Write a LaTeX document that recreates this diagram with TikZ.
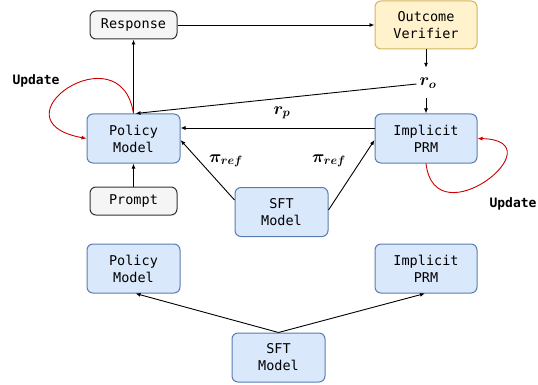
\documentclass[tikz,border=0pt]{standalone}
\usepackage{fontspec}
\usepackage{amsmath,bm}
\setmonofont{DejaVu Sans Mono}
\usetikzlibrary{arrows.meta}
\definecolor{bluefill}{HTML}{DAE8FC}
\definecolor{blueline}{HTML}{5A7DB0}
\definecolor{yelfill}{HTML}{FFF2CC}
\definecolor{yelline}{HTML}{D6B656}
\definecolor{grayfill}{HTML}{F5F5F5}
\definecolor{grayline}{HTML}{333333}
\definecolor{loopred}{HTML}{CC0000}
\tikzset{
  box/.style={draw, rounded corners=6pt, line width=1pt, align=center,
    font=\fontsize{13.5}{17}\selectfont\ttfamily, inner sep=2pt},
  bluebox/.style={box, fill=bluefill, draw=blueline, minimum width=93pt, minimum height=49pt},
  prmbox/.style={box, fill=bluefill, draw=blueline, minimum width=102pt, minimum height=49pt},
  yelbox/.style={box, fill=yelfill, draw=yelline, minimum width=102pt, minimum height=48pt},
  graybox/.style={box, fill=grayfill, draw=grayline, minimum width=87pt, minimum height=28pt},
  arr/.style={line width=0.9pt, -{Latex[length=5pt,width=4pt]}},
  looparr/.style={line width=0.9pt, draw=loopred, -{Latex[length=5pt,width=4pt]}},
  mlabel/.style={font=\fontsize{18}{20}\selectfont},
  updlabel/.style={font=\fontsize{13}{15}\selectfont\ttfamily\bfseries},
}
\begin{document}
\begin{tikzpicture}[x=1pt,y=-1pt]
\useasboundingbox (0,0) rectangle (538,385);

\node[graybox] (resp) at (133.5,25) {Response};
\node[yelbox] (ov) at (426,25) {Outcome\\Verifier};
\node[bluebox] (pol) at (133.5,138.5) {Policy\\Model};
\node[prmbox] (prm) at (426,138.5) {Implicit\\PRM};
\node[graybox] (prompt) at (133.5,201) {Prompt};
\node[bluebox] (sft) at (281.5,212) {SFT\\Model};

\node[mlabel, minimum height=30pt, inner xsep=3pt] (ro) at (428,83) {$\bm{r}_{\bm{o}}$};
\node[mlabel] (rp) at (282,113) {$\bm{r}_{\bm{p}}$};
\node[mlabel] (pil) at (226,161) {$\bm{\pi}_{\bm{ref}}$};
\node[mlabel] (pir) at (329,161) {$\bm{\pi}_{\bm{ref}}$};
\node[updlabel] (upl) at (36,81) {Update};
\node[updlabel] (upr) at (513,204) {Update};

\node[bluebox] (pol2) at (133.5,268.5) {Policy\\Model};
\node[prmbox] (prm2) at (426,268.5) {Implicit\\PRM};
\node[bluebox] (sft2) at (278.5,357.5) {SFT\\Model};

% top part
\draw[arr] (resp.east) -- (ov.west);
\draw[arr] (pol.north) -- (resp.south);
\draw[arr] (ov.south) -- (ov.south |- ro.north);
\draw[arr] (prm.north |- ro.south) -- (prm.north);
\draw[arr] ([yshift=-1pt]ro.west) -- ([xshift=2pt]pol.north);
\draw[arr] (prm.west |- 0,128) -- (pol.east |- 0,128);
\draw[arr] (prompt.north) -- (pol.south);
\draw[arr] (sft.west |- 0,200) -- (pol.east |- 0,140);
\draw[arr] (sft.east |- 0,210) -- (prm.west |- 0,140);

% update loops
\draw[looparr] (pol.north) .. controls +(-13,-84) and +(-97,-18) .. (pol.west);
\draw[looparr] (prm.south) .. controls +(9,77) and +(82,2) .. (prm.east);

% bottom part
\draw[arr] (sft2.north) -- ([xshift=2pt]pol2.south);
\draw[arr] (sft2.north) -- ([xshift=-1pt]prm2.south);
\end{tikzpicture}
\end{document}
